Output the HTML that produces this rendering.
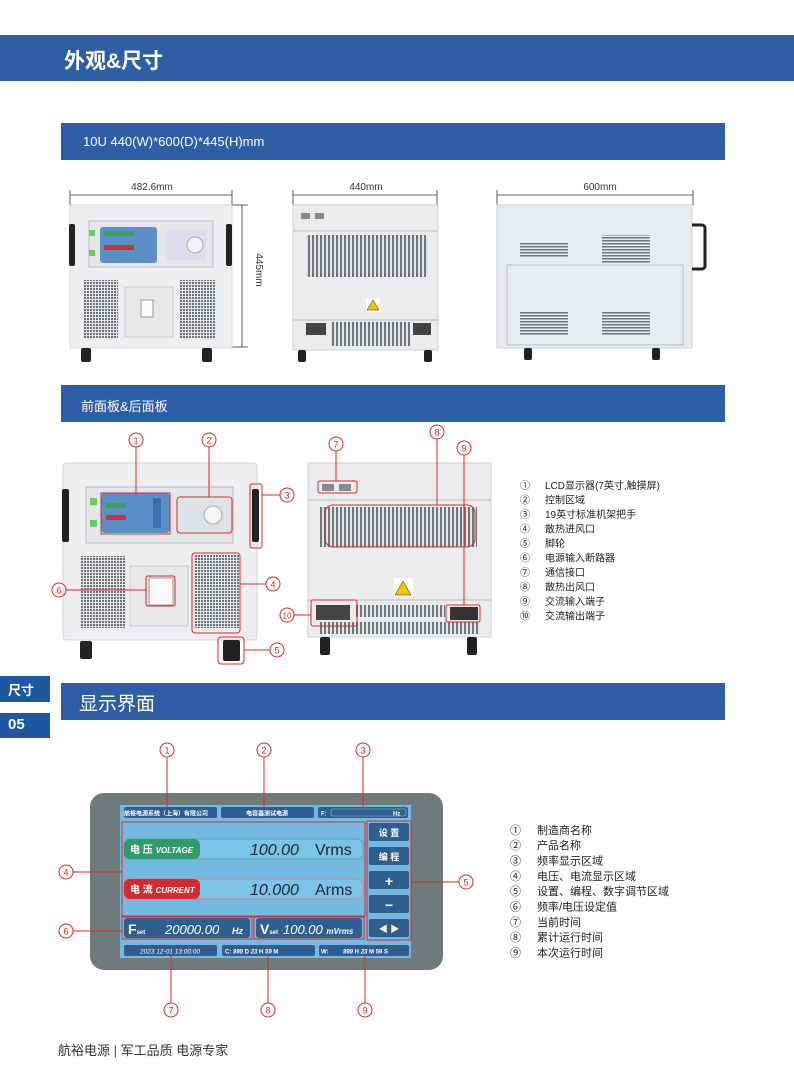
<!DOCTYPE html>
<html><head><meta charset="utf-8">
<style>
*{margin:0;padding:0;box-sizing:border-box}
body{width:794px;height:1077px;background:#fff;position:relative;overflow:hidden;font-family:"Liberation Sans","Noto Sans CJK SC",sans-serif}
.bar{position:absolute;background:#2e5ea6;color:#fff}
.t{position:absolute;white-space:nowrap}
</style></head><body>
<div class="bar" style="left:0;top:35px;width:794px;height:46px"><div class="t" style="left:64px;top:10px;font-size:21px;font-weight:bold">外观&amp;尺寸</div></div>
<div class="bar" style="left:61px;top:123px;width:664px;height:37px"><div class="t" style="left:22px;top:11px;font-size:13px">10U 440(W)*600(D)*445(H)mm</div></div>
<div class="bar" style="left:61px;top:385px;width:664px;height:37px"><div class="t" style="left:20px;top:11px;font-size:13px">前面板&amp;后面板</div></div>
<div class="bar" style="left:61px;top:683px;width:664px;height:37px"><div class="t" style="left:18px;top:6px;font-size:19px">显示界面</div></div>
<div class="bar" style="left:0;top:676px;width:50px;height:26px;background:#1f57a0"><div class="t" style="left:8px;top:4px;font-size:13px;font-weight:bold">尺寸</div></div>
<div class="bar" style="left:0;top:713px;width:50px;height:25px;background:#1f57a0"><div class="t" style="left:8px;top:3px;font-size:15px;font-weight:bold">05</div></div>
<div class="t" style="left:58px;top:1040px;font-size:13px;color:#333">航裕电源 <span style="color:#8a2a2a">|</span> 军工品质 电源专家</div>

<svg width="794" height="1077" style="position:absolute;left:0;top:0" xmlns="http://www.w3.org/2000/svg" font-family="Liberation Sans,Noto Sans CJK SC,sans-serif">
<defs>
<pattern id="v" width="3" height="3" patternUnits="userSpaceOnUse"><rect width="3" height="3" fill="#e6e8ea"/><rect width="2" height="2" fill="#6c7178"/></pattern>
<pattern id="h" width="4" height="8" patternUnits="userSpaceOnUse"><rect width="4" height="8" fill="#e2e4e6"/><rect width="2" height="8" fill="#70757c"/></pattern>
<pattern id="s" width="4" height="3" patternUnits="userSpaceOnUse"><rect width="4" height="3" fill="#e8eaec"/><rect width="4" height="1.5" fill="#707580"/></pattern>
</defs>
<!-- dimensions -->
<g stroke="#333" stroke-width="0.8" fill="none">
<line x1="70" y1="195" x2="232" y2="195"/><line x1="70" y1="190" x2="70" y2="205"/><line x1="232" y1="190" x2="232" y2="205"/>
<line x1="242" y1="205" x2="242" y2="347"/><line x1="232" y1="205" x2="248" y2="205"/><line x1="232" y1="347" x2="248" y2="347"/>
<line x1="293" y1="195" x2="437" y2="195"/><line x1="293" y1="190" x2="293" y2="205"/><line x1="437" y1="190" x2="437" y2="205"/>
<line x1="497" y1="195" x2="693" y2="195"/><line x1="497" y1="190" x2="497" y2="205"/><line x1="693" y1="190" x2="693" y2="205"/>
</g>
<g fill="#333" font-size="10" text-anchor="middle">
<text x="152" y="190">482.6mm</text><text x="366" y="190">440mm</text><text x="600" y="190">600mm</text>
<text transform="translate(256,270) rotate(90)">445mm</text>
</g>
<!-- top front -->
<rect x="70" y="205" width="162" height="143" fill="#eceef0" stroke="#d5d8db"/>
<rect x="89" y="221" width="124" height="46" fill="#e4e7ea" stroke="#bbb"/>
<rect x="100" y="227" width="57" height="36" rx="3" fill="#5a8fc7"/>
<rect x="104" y="231" width="30" height="5" fill="#3aa060"/><rect x="104" y="245" width="30" height="5" fill="#d03030"/>
<rect x="166" y="230" width="40" height="30" fill="#dde" />
<circle cx="195" cy="245" r="8" fill="#f4f4f4" stroke="#aaa"/>
<rect x="89" y="230" width="6" height="6" fill="#6c6"/><rect x="89" y="250" width="6" height="6" fill="#6c6"/>
<rect x="69" y="224" width="6" height="42" rx="2" fill="#222"/><rect x="226" y="224" width="6" height="42" rx="2" fill="#222"/>
<rect x="83" y="280" width="35" height="58" fill="url(#v)"/><rect x="179" y="280" width="36" height="58" fill="url(#v)"/>
<rect x="125" y="287" width="48" height="50" fill="#e6e8ea" stroke="#ccc"/><rect x="141" y="300" width="12" height="17" fill="#fafafa" stroke="#999"/>
<rect x="81" y="348" width="10" height="14" rx="2" fill="#222"/><rect x="202" y="348" width="10" height="14" rx="2" fill="#222"/>
<!-- top rear -->
<rect x="293" y="205" width="145" height="145" fill="#eaecee" stroke="#cfd2d6"/>
<line x1="293" y1="231" x2="438" y2="231" stroke="#bbb"/><line x1="293" y1="320" x2="438" y2="320" stroke="#bbb"/>
<rect x="301" y="213" width="9" height="6" fill="#888"/><rect x="315" y="213" width="9" height="6" fill="#888"/>
<rect x="306" y="235" width="122" height="42" fill="url(#h)"/>
<rect x="366" y="298" width="14" height="14" fill="#fff"/><polygon points="373,300 379,310 367,310" fill="#f3c400" stroke="#222" stroke-width=".5"/>
<rect x="306" y="323" width="20" height="12" fill="#444"/><rect x="413" y="323" width="18" height="12" fill="#444"/>
<rect x="330" y="322" width="80" height="24" fill="url(#h)"/>
<rect x="298" y="350" width="8" height="12" rx="2" fill="#222"/><rect x="424" y="350" width="8" height="12" rx="2" fill="#222"/>
<!-- top side -->
<rect x="497" y="205" width="195" height="143" fill="#e9ecef" stroke="#cfd2d6"/>
<rect x="507" y="265" width="176" height="80" fill="none" stroke="#bbb"/>
<path d="M692 225 h10 a3 3 0 0 1 3 3 v38 a3 3 0 0 1 -3 3 h-10" fill="none" stroke="#222" stroke-width="3"/>
<rect x="520" y="243" width="48" height="15" fill="url(#s)"/><rect x="602" y="235" width="48" height="28" fill="url(#s)"/>
<rect x="520" y="312" width="48" height="24" fill="url(#s)"/><rect x="602" y="312" width="48" height="24" fill="url(#s)"/>
<rect x="524" y="348" width="8" height="12" rx="2" fill="#222"/><rect x="652" y="348" width="8" height="12" rx="2" fill="#222"/>

<!-- front panel -->
<rect x="63" y="463" width="194" height="177" rx="3" fill="#eceef0" stroke="#d5d8db"/>
<rect x="86" y="487" width="147" height="56" fill="#e4e7ea" stroke="#bbb"/>
<rect x="101" y="493" width="69" height="40" rx="4" fill="#5a8fc7"/>
<rect x="106" y="503" width="20" height="5" fill="#3aa060"/><rect x="106" y="515" width="20" height="5" fill="#d03030"/>
<rect x="153" y="498" width="8" height="30" fill="#3b6fae"/>
<rect x="178" y="498" width="54" height="34" fill="#dfe2e6"/><circle cx="213" cy="515" r="9" fill="#f6f6f6" stroke="#aaa"/>
<rect x="90" y="498" width="7" height="7" fill="#6c6"/><rect x="90" y="520" width="7" height="7" fill="#6c6"/>
<rect x="62" y="489" width="7" height="53" rx="2" fill="#222"/><rect x="252" y="489" width="7" height="53" rx="2" fill="#222"/>
<rect x="81" y="556" width="45" height="72" fill="url(#v)"/><rect x="194" y="555" width="45" height="73" fill="url(#v)"/>
<rect x="130" y="566" width="58" height="60" fill="#e6e8ea" stroke="#ccc"/><rect x="149" y="578" width="24" height="27" fill="#fafafa" stroke="#999"/>
<rect x="80" y="641" width="12" height="18" rx="2" fill="#222"/><rect x="223" y="640" width="17" height="21" rx="2" fill="#222"/>
<!-- rear panel -->
<rect x="308" y="463" width="183" height="174" fill="#eaecee" stroke="#cfd2d6"/>
<line x1="308" y1="500" x2="491" y2="500" stroke="#bbb"/><line x1="308" y1="600" x2="491" y2="600" stroke="#bbb"/>
<rect x="322" y="484" width="12" height="7" fill="#888"/><rect x="339" y="484" width="12" height="7" fill="#888"/>
<rect x="320" y="507" width="157" height="40" fill="url(#h)"/>
<rect x="394" y="578" width="19" height="19" fill="#fff"/><polygon points="403,581 411,595 395,595" fill="#f3c400" stroke="#222" stroke-width=".5"/>
<rect x="316" y="605" width="34" height="15" fill="#444"/><rect x="450" y="607" width="28" height="13" fill="#333"/>
<rect x="355" y="605" width="90" height="12" fill="url(#h)"/><rect x="320" y="622" width="160" height="12" fill="url(#h)"/>
<rect x="320" y="637" width="10" height="18" rx="2" fill="#222"/><rect x="467" y="637" width="10" height="18" rx="2" fill="#222"/>
<!-- panel callouts -->
<g stroke="#d9272e" stroke-width="1" fill="none">
<rect x="101" y="493" width="69" height="41"/><rect x="177" y="497" width="55" height="36" rx="3"/>
<rect x="250" y="484" width="12" height="64" rx="2"/><rect x="192" y="553" width="48" height="80" rx="3"/>
<rect x="146" y="576" width="29" height="30" rx="2"/><rect x="218" y="637" width="26" height="27" rx="3"/>
<rect x="318" y="481" width="39" height="12" rx="2"/><rect x="325" y="505" width="150" height="42" rx="8"/>
<rect x="311" y="600" width="46" height="26" rx="2"/><rect x="446" y="605" width="34" height="17" rx="2"/>
<line x1="136" y1="447" x2="136" y2="493"/><line x1="209" y1="447" x2="209" y2="497"/>
<line x1="262" y1="495" x2="280" y2="495"/><line x1="240" y1="584" x2="266" y2="584"/>
<line x1="244" y1="650" x2="270" y2="650"/><line x1="66" y1="590" x2="146" y2="590"/>
<line x1="336" y1="451" x2="336" y2="481"/><line x1="437" y1="439" x2="437" y2="505"/>
<line x1="464" y1="455" x2="464" y2="605"/><line x1="294" y1="615" x2="311" y2="615"/>
<circle cx="136" cy="440" r="7"/><circle cx="209" cy="440" r="7"/><circle cx="287" cy="495" r="7"/>
<circle cx="273" cy="584" r="7"/><circle cx="277" cy="650" r="7"/><circle cx="59" cy="590" r="7"/>
<circle cx="336" cy="444" r="7"/><circle cx="437" cy="432" r="7"/><circle cx="464" cy="448" r="7"/><circle cx="287" cy="615" r="7"/>
</g>
<g fill="#d9272e" font-size="9" text-anchor="middle">
<text x="136" y="443.5">1</text><text x="209" y="443.5">2</text><text x="287" y="498.5">3</text><text x="273" y="587.5">4</text>
<text x="277" y="653.5">5</text><text x="59" y="593.5">6</text><text x="336" y="447.5">7</text><text x="437" y="435.5">8</text>
<text x="464" y="451.5">9</text><text x="287" y="618.5" font-size="8">10</text>
</g>
<g fill="#222" font-size="10">
<text x="520" y="489">①</text><text x="545" y="489">LCD显示器(7英寸,触摸屏)</text>
<text x="520" y="503.5">②</text><text x="545" y="503.5">控制区域</text>
<text x="520" y="518">③</text><text x="545" y="518">19英寸标准机架把手</text>
<text x="520" y="532.5">④</text><text x="545" y="532.5">散热进风口</text>
<text x="520" y="547">⑤</text><text x="545" y="547">脚轮</text>
<text x="520" y="561.5">⑥</text><text x="545" y="561.5">电源输入断路器</text>
<text x="520" y="576">⑦</text><text x="545" y="576">通信接口</text>
<text x="520" y="590.5">⑧</text><text x="545" y="590.5">散热出风口</text>
<text x="520" y="605">⑨</text><text x="545" y="605">交流输入端子</text>
<text x="520" y="619.5">⑩</text><text x="545" y="619.5">交流输出端子</text>
</g>

<!-- display -->
<rect x="90" y="793" width="353" height="177" rx="14" fill="#6e7a7c"/>
<rect x="120" y="805" width="291" height="153" fill="#73b9e2"/>
<g fill="#2f5f8f">
<rect x="124" y="807" width="93" height="11" rx="2"/><rect x="221" y="807" width="93" height="11" rx="2"/><rect x="318" y="807" width="90" height="11" rx="2"/>
<rect x="124" y="918" width="126" height="20" rx="3"/><rect x="256" y="918" width="106" height="20" rx="3"/>
<rect x="124" y="945" width="93" height="11" rx="2"/><rect x="222" y="945" width="93" height="11" rx="2"/><rect x="319" y="945" width="90" height="11" rx="2"/>
<rect x="369" y="823" width="40" height="18" rx="2"/><rect x="369" y="847" width="40" height="18" rx="2"/><rect x="369" y="871" width="40" height="18" rx="2"/>
<rect x="369" y="895" width="40" height="18" rx="2"/><rect x="369" y="919" width="40" height="18" rx="2"/>
</g>
<rect x="331" y="809" width="75" height="7" rx="2" fill="none" stroke="#9cc" stroke-width=".6"/>
<rect x="124" y="839" width="239" height="20" rx="6" fill="#7cc3e8" stroke="#5aa"/>
<rect x="124" y="879" width="239" height="20" rx="6" fill="#7cc3e8" stroke="#c88"/>
<rect x="124" y="839" width="76" height="20" rx="6" fill="#2f9a6a"/><rect x="124" y="879" width="76" height="20" rx="6" fill="#d52a30"/>
<g fill="#fff" font-weight="bold">
<text x="166" y="815.5" font-size="6" text-anchor="middle">航裕电源系统（上海）有限公司</text>
<text x="267" y="815.5" font-size="6" text-anchor="middle">电容器测试电源</text>
<text x="321" y="815.5" font-size="6">F:</text><text x="393" y="815.5" font-size="6">Hz</text>
<text x="130" y="853" font-size="10">电 压 <tspan font-style="italic" font-size="8">VOLTAGE</tspan></text>
<text x="130" y="893" font-size="10">电 流 <tspan font-style="italic" font-size="8">CURRENT</tspan></text>
<text x="128" y="934" font-size="14">F<tspan font-size="6">set</tspan></text>
<text x="260" y="934" font-size="14">V<tspan font-size="6">set</tspan></text>
<text x="232" y="934" font-size="9" font-style="italic">Hz</text>
<text x="165" y="934" font-size="13" font-style="italic" font-weight="normal">20000.00</text>
<text x="283" y="934" font-size="13" font-style="italic" font-weight="normal">100.00 <tspan font-size="8" font-weight="bold">mVrms</tspan></text>
<text x="389" y="836" font-size="9" text-anchor="middle">设 置</text><text x="389" y="860" font-size="9" text-anchor="middle">编 程</text>
<text x="389" y="886" font-size="14" text-anchor="middle">+</text><text x="389" y="910" font-size="14" text-anchor="middle">−</text>
<text x="389" y="932" font-size="9" text-anchor="middle">◀ ▶</text>
<text x="170" y="953.5" font-size="6.5" text-anchor="middle" font-style="italic" font-weight="normal">2023 12-01 13:00:00</text>
<text x="225" y="953.5" font-size="6">C:   <tspan font-style="italic">999</tspan> D <tspan font-style="italic">23</tspan> H <tspan font-style="italic">59</tspan> M</text>
<text x="321" y="953.5" font-size="6">W:  </text><text x="343" y="953.5" font-size="6"><tspan font-style="italic">999</tspan> H <tspan font-style="italic">23</tspan> M 59 S</text>
</g>
<g fill="#1a2530" font-style="italic">
<text x="250" y="855" font-size="16">100.00</text><text x="315" y="855" font-size="16" font-style="normal">Vrms</text>
<text x="250" y="895" font-size="16">10.000</text><text x="315" y="895" font-size="16" font-style="normal">Arms</text>
</g>
<g stroke="#d9272e" stroke-width="1" fill="none">
<rect x="122" y="822" width="243" height="94"/><rect x="367" y="821" width="44" height="119"/>
<rect x="122" y="917" width="130" height="22"/><rect x="254" y="917" width="110" height="22"/>
<line x1="167" y1="757" x2="167" y2="807"/><line x1="264" y1="757" x2="264" y2="807"/><line x1="363" y1="757" x2="363" y2="807"/>
<line x1="73" y1="872" x2="122" y2="872"/><line x1="411" y1="882" x2="459" y2="882"/><line x1="73" y1="931" x2="122" y2="931"/>
<line x1="171" y1="956" x2="171" y2="1003"/><line x1="268" y1="956" x2="268" y2="1003"/><line x1="365" y1="956" x2="365" y2="1003"/>
<circle cx="167" cy="750" r="7"/><circle cx="264" cy="750" r="7"/><circle cx="363" cy="750" r="7"/>
<circle cx="66" cy="872" r="7"/><circle cx="466" cy="882" r="7"/><circle cx="66" cy="931" r="7"/>
<circle cx="171" cy="1010" r="7"/><circle cx="268" cy="1010" r="7"/><circle cx="365" cy="1010" r="7"/>
</g>
<g fill="#d9272e" font-size="9" text-anchor="middle">
<text x="167" y="753.5">1</text><text x="264" y="753.5">2</text><text x="363" y="753.5">3</text>
<text x="66" y="875.5">4</text><text x="466" y="885.5">5</text><text x="66" y="934.5">6</text>
<text x="171" y="1013.5">7</text><text x="268" y="1013.5">8</text><text x="365" y="1013.5">9</text>
</g>
<g fill="#222" font-size="11">
<text x="510" y="834">①</text><text x="537" y="834">制造商名称</text>
<text x="510" y="849">②</text><text x="537" y="849">产品名称</text>
<text x="510" y="864.5">③</text><text x="537" y="864.5">频率显示区域</text>
<text x="510" y="880">④</text><text x="537" y="880">电压、电流显示区域</text>
<text x="510" y="895">⑤</text><text x="537" y="895">设置、编程、数字调节区域</text>
<text x="510" y="910.5">⑥</text><text x="537" y="910.5">频率/电压设定值</text>
<text x="510" y="926">⑦</text><text x="537" y="926">当前时间</text>
<text x="510" y="941">⑧</text><text x="537" y="941">累计运行时间</text>
<text x="510" y="956.5">⑨</text><text x="537" y="956.5">本次运行时间</text>
</g>
</svg>
</body></html>
